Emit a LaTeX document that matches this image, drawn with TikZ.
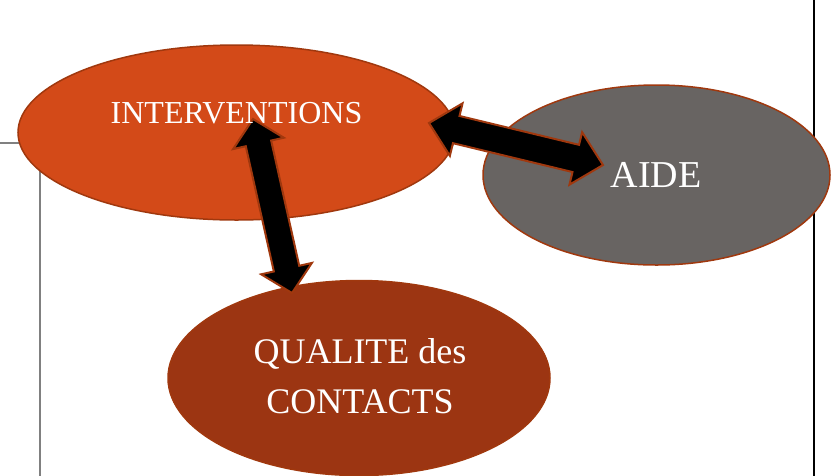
\documentclass[tikz,border=0pt]{standalone}
\usepackage{fontspec}
\setmainfont{Liberation Serif}
\usetikzlibrary{shapes.geometric,calc}
\definecolor{orangeA}{HTML}{D34A18}
\definecolor{grayA}{HTML}{686462}
\definecolor{brownA}{HTML}{9C3512}
\definecolor{edgeA}{HTML}{A0380E}
\definecolor{frameA}{HTML}{808080}
\newcommand\blockdarrow[5]{%
  \filldraw[blockarrow] (#1)
   -- ($(#1)!#5!(#2)!#4!90:(#2)$)
   -- ($(#1)!#5!(#2)!#3!90:(#2)$)
   -- ($(#2)!#5!(#1)!#3!-90:(#1)$)
   -- ($(#2)!#5!(#1)!#4!-90:(#1)$)
   -- (#2)
   -- ($(#2)!#5!(#1)!#4!90:(#1)$)
   -- ($(#2)!#5!(#1)!#3!90:(#1)$)
   -- ($(#1)!#5!(#2)!#3!-90:(#2)$)
   -- ($(#1)!#5!(#2)!#4!-90:(#2)$)
   -- cycle;}
\begin{document}
\begin{tikzpicture}[x=1pt,y=-1pt,
  ell/.style={ellipse, draw=edgeA, line width=1.5pt, inner sep=0pt, outer sep=0pt},
  blockarrow/.style={fill=black, draw=edgeA, line width=2pt, line join=miter},
  lbl/.style={text=white, anchor=base, inner sep=0pt}]
\useasboundingbox (0,0) rectangle (834,475);
% frame lines
\draw[frameA, line width=1.5pt] (0,143) -- (40,143) -- (40,476);
\draw[black, line width=1.3pt] (814,-1) -- (814,476);
% ellipses
\node[ell, fill=orangeA, minimum width=437pt, minimum height=175pt] (inter) at (236.5,132.5) {};
\node[ell, fill=brownA, minimum width=382pt, minimum height=195pt] (qual) at (359,378) {};
\node[ell, fill=grayA, minimum width=347pt, minimum height=180pt] (aide) at (656.5,175) {};
% arrow tips
\coordinate (t1) at (429,123);
\coordinate (t2) at (603,165);
\coordinate (t3) at (253,119);
\coordinate (t4) at (292,293);
\blockdarrow{t1}{t2}{14pt}{27pt}{28pt}
\blockdarrow{t3}{t4}{13pt}{26pt}{25pt}
% texts
\node[lbl, font=\fontsize{32}{38}\selectfont] (tinter) at (236.5,123) {INTERVENTIONS};
\node[lbl, font=\fontsize{38}{44}\selectfont] (taide) at (656,187) {AIDE};
\node[text=white, inner sep=0pt, align=center, font=\fontsize{36}{50}\selectfont] (tqual) at (360,376) {QUALITE des\\CONTACTS};
\end{tikzpicture}
\end{document}
